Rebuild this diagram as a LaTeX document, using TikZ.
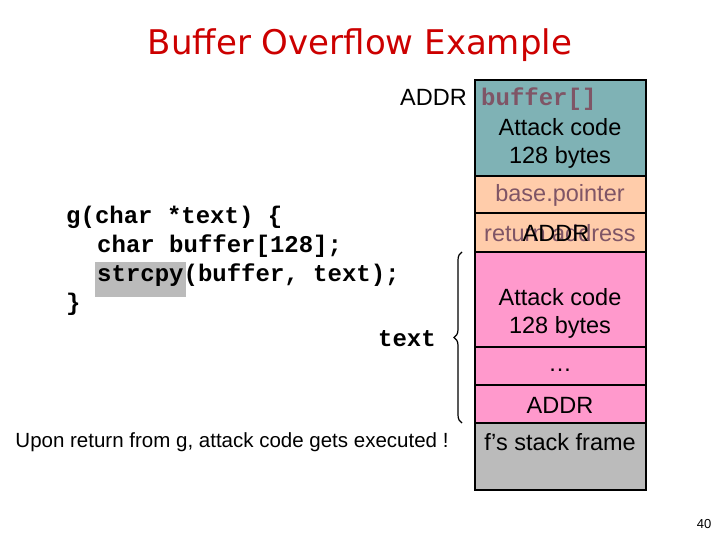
\documentclass[tikz,border=0pt]{standalone}
\usepackage{fontspec}
\setmainfont{Liberation Sans}
\newfontfamily\codef{Liberation Mono}
\newfontfamily\titlef{DejaVu Sans}
\usetikzlibrary{decorations.pathreplacing}
\definecolor{teal1}{HTML}{7FB2B5}
\definecolor{peach}{HTML}{FFCCAA}
\definecolor{pink1}{HTML}{FF99CC}
\definecolor{gray1}{HTML}{BBBBBB}
\definecolor{mauve}{HTML}{7F5566}
\definecolor{titler}{HTML}{CC0000}
\begin{document}
\begin{tikzpicture}[x=1pt,y=-1pt,
 cell/.style={draw=black,line width=1.2pt},
 lab/.style={font=\fontsize{23.5}{28}\selectfont,align=center},
 code/.style={font=\codef\bfseries\fontsize{24}{24}\selectfont,anchor=base west,inner sep=0}]
\useasboundingbox (0,0) rectangle (720,540);
\node[text=titler,font=\titlef\fontsize{34}{38}\selectfont] (title) at (360,45) {Buffer Overflow Example};
% stack
\fill[teal1] (475,80) rectangle (646,176);
\fill[peach] (475,176) rectangle (646,252);
\fill[pink1] (475,252) rectangle (646,423);
\fill[gray1] (475,423) rectangle (646,490);
\foreach \y in {176,213,252,347,385,423}{\draw[line width=1.2pt] (475,\y) -- (646,\y);}
\draw[cell] (475,80) rectangle (646,490);
\node[font=\codef\bfseries\fontsize{24}{24}\selectfont,text=mauve,anchor=base west,inner sep=0] (buf) at (481,106) {buffer[]};
\node[lab,anchor=base east,inner sep=0] (addr0) at (467,106) {ADDR};
\node[lab] (ac1) at (560,143) {Attack code\\128 bytes};
\node[lab,text=mauve] (bp) at (560,195) {base.pointer};
\node[lab,text=mauve] (ra) at (560,233) {return address};
\node[lab] (addr1) at (556,233) {ADDR};
\node[lab] (ac2) at (560,313) {Attack code\\128 bytes};
\node[lab] (dots) at (560,370) {\ldots};
\node[lab] (addr2) at (560,405) {ADDR};
\node[lab] (fs) at (560,442) {f’s stack frame};
% code
\fill[gray1] (95,262) rectangle (186,297);
\node[code] (c1) at (66,224) {g(char *text) \{};
\node[code] (c2) at (97,252) {char buffer[128];};
\node[code] (c3) at (97,281) {strcpy(buffer, text);};
\node[code] (c4) at (66,310) {\}};
\node[code,anchor=base east] (txt) at (436,346) {text};
\coordinate (bt) at (462,252);
\coordinate (bb) at (462,423);
\draw[line width=1.2pt,decorate,decoration={brace,amplitude=8pt}] (bb) -- (bt);
\node[font=\fontsize{20.5}{24}\selectfont] (note) at (232,442) {Upon return from g, attack code gets executed !};
\node[font=\fontsize{13}{15}\selectfont] (pg) at (704,524) {40};
\end{tikzpicture}
\end{document}
